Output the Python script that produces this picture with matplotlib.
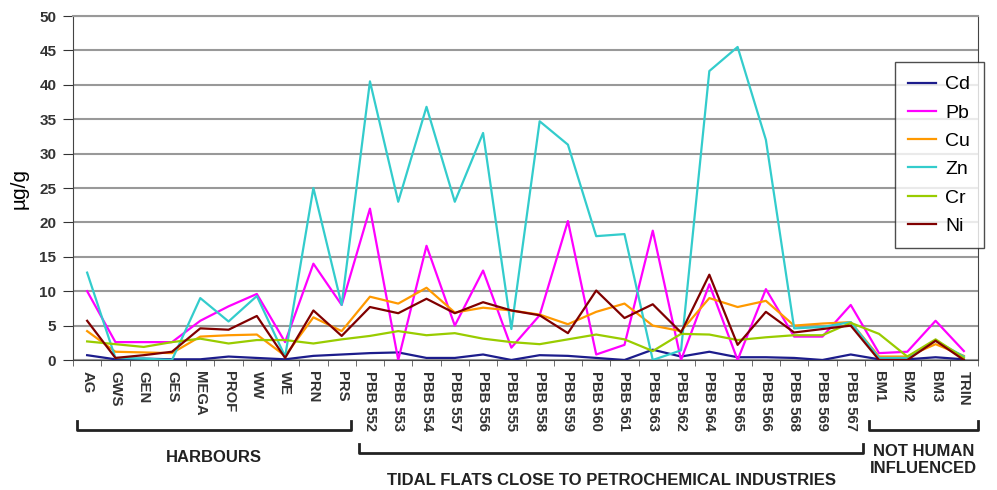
import numpy as np
import matplotlib.pyplot as plt

plt.rcParams['font.family'] = ['Liberation Sans', 'DejaVu Sans']

sites = ['AG', 'GWS', 'GEN', 'GES', 'MEGA', 'PROF', 'WW', 'WE', 'PRN', 'PRS',
         'PBB 552', 'PBB 553', 'PBB 554', 'PBB 557', 'PBB 556', 'PBB 555',
         'PBB 558', 'PBB 559', 'PBB 560', 'PBB 561', 'PBB 563', 'PBB 562',
         'PBB 564', 'PBB 565', 'PBB 566', 'PBB 568', 'PBB 569', 'PBB 567',
         'BM1', 'BM2', 'BM3', 'TRIN']

cd = [0.7, 0.1, 0.2, 0.1, 0.1, 0.5, 0.3, 0.1, 0.6, 0.8,
      1.0, 1.1, 0.3, 0.3, 0.8, 0.0, 0.7, 0.6, 0.3, 0.0, 1.5, 0.5,
      1.2, 0.4, 0.4, 0.3, 0.0, 0.8, 0.1, 0.1, 0.4, 0.1]
pb = [10.0, 2.6, 2.6, 2.6, 5.7, 7.8, 9.6, 2.6, 14.0, 8.0,
      22.0, 0.0, 16.6, 5.0, 13.0, 1.8, 6.5, 20.2, 0.8, 2.2, 18.8, 0.0,
      11.0, 0.0, 10.3, 3.4, 3.4, 8.0, 1.0, 1.2, 5.7, 1.3]
cu = [4.2, 1.2, 1.1, 1.0, 3.4, 3.6, 3.7, 0.6, 6.2, 4.2,
      9.2, 8.2, 10.5, 6.9, 7.6, 7.2, 6.6, 5.2, 7.0, 8.2, 5.0, 4.2,
      9.0, 7.7, 8.6, 5.0, 5.3, 5.5, 0.5, 0.5, 2.3, 0.6]
zn = [12.7, 0.3, 0.2, 0.0, 9.0, 5.6, 9.3, 0.5, 25.0, 8.0,
      40.5, 23.0, 36.8, 23.0, 33.0, 4.5, 34.7, 31.3, 18.0, 18.3, 0.0, 1.4,
      42.0, 45.5, 32.0, 4.6, 4.8, 5.5, 0.3, 0.3, 2.8, 0.5]
cr = [2.7, 2.3, 1.9, 2.6, 3.1, 2.4, 2.9, 2.9, 2.4, 3.0,
      3.5, 4.2, 3.6, 3.9, 3.1, 2.6, 2.3, 3.0, 3.7, 3.0, 1.3, 3.8,
      3.7, 2.9, 3.3, 3.6, 3.6, 5.4, 3.8, 0.5, 3.0, 0.3]
ni = [5.7, 0.3, 0.7, 1.2, 4.6, 4.4, 6.4, 0.3, 7.2, 3.5,
      7.7, 6.8, 8.9, 6.8, 8.4, 7.2, 6.5, 3.9, 10.1, 6.1, 8.1, 4.0,
      12.4, 2.2, 7.0, 4.0, 4.5, 5.0, 0.0, 0.0, 2.8, 0.0]

series = [('Cd', cd, '#1c1c8c'), ('Pb', pb, '#ff00ff'), ('Cu', cu, '#ff9900'),
          ('Zn', zn, '#33cccc'), ('Cr', cr, '#99cc00'), ('Ni', ni, '#800000')]

fig = plt.figure(figsize=(9.97, 4.90), dpi=100)
ax = fig.add_axes([73 / 997, 130 / 490, 905 / 997, 344 / 490])

x = np.arange(len(sites))
for name, vals, col in series:
    ax.plot(x, vals, color=col, lw=1.6, label=name)

ax.set_xlim(-0.5, len(sites) - 0.5)
ax.set_ylim(0, 50)
ax.set_yticks(range(0, 51, 5))
ax.yaxis.grid(True, color='#999999', lw=1.5)
ax.set_axisbelow(True)
ax.tick_params(axis='y', labelsize=11, length=7, pad=5, colors='#333333')
for lab in ax.get_yticklabels():
    lab.set_fontweight('bold')
ax.set_ylabel('µg/g', fontsize=15, labelpad=8)

ax.set_xticks(x)
ax.set_xticklabels(sites, rotation=-90, fontsize=10.7, fontweight='bold', color='#333333')
ax.set_xticks(np.arange(-0.5, len(sites), 1), minor=True)
ax.tick_params(axis='x', which='major', length=0, pad=8)
ax.tick_params(axis='x', which='minor', length=4, color='#555555')

ax.spines['top'].set_color('#999999')
ax.spines['top'].set_linewidth(1.5)
ax.spines['right'].set_color('#444444')
ax.spines['left'].set_color('#444444')
ax.spines['bottom'].set_color('#444444')

leg = ax.legend(loc='upper right', bbox_to_anchor=(1.0066, 0.866), borderaxespad=0,
                fontsize=14, frameon=True, fancybox=False, edgecolor='#222222',
                handlelength=1.4, handletextpad=0.5, labelspacing=0.55, borderpad=0.7)
leg.get_frame().set_linewidth(1.0)

# group brackets under the site labels
tr = ax.get_xaxis_transform()


def bracket(x0, x1, y, text, ty):
    h = 0.025
    ax.plot([x0, x0, x1, x1], [y + h, y, y, y + h], color='#222222', lw=2,
            transform=tr, clip_on=False)
    ax.text((x0 + x1) / 2, ty, text, transform=tr, ha='center', va='center',
            fontsize=12, fontweight='bold', color='#222222')


bracket(-0.35, 9.33, -0.203, 'HARBOURS', -0.282)
bracket(9.62, 27.44, -0.27, 'TIDAL FLATS CLOSE TO PETROCHEMICAL INDUSTRIES', -0.349)
bracket(27.65, 31.5, -0.203, 'NOT HUMAN\nINFLUENCED', -0.29)

fig.savefig('out.png', dpi=100)
